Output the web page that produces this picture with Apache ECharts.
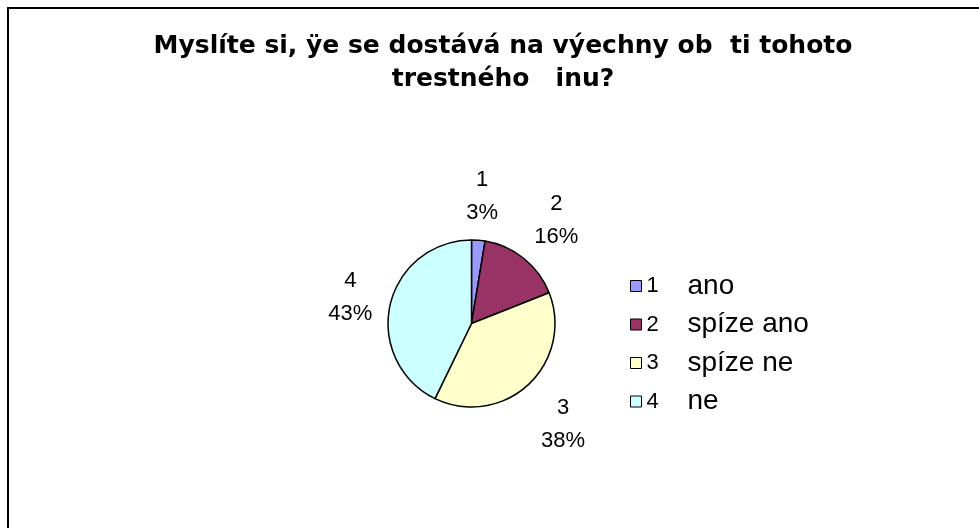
<!DOCTYPE html>
<html>
<head>
<meta charset="utf-8">
<script src="https://cdn.jsdelivr.net/npm/echarts@6/dist/echarts.min.js"></script>
<style>
  html, body { margin: 0; padding: 0; background: #fff; }
  #chart { width: 979px; height: 528px; }
</style>
</head>
<body>
<div id="chart"></div>
<script>
// data
const titleText = 'Myslíte si, ÿe se dostává na výechny ob  ti tohoto\ntrestného   inu?'
const categories = ['1', '2', '3', '4']
const answers = ['ano', 'spíze ano', 'spíze ne', 'ne']
const values = [2.6, 16.4, 38.2, 42.8]
const colors = ['#9999FF', '#993366', '#FFFFCC', '#CCFFFF']

const font = '"Liberation Sans", Arial, sans-serif'
const center = [471.5, 323.5]
const pieRadius = 83.5
const labelGap = 12

const chart = echarts.init(document.getElementById('chart'), null, { renderer: 'canvas' })

const pieData = categories.map((c, i) => ({
  name: c,
  value: values[i],
  itemStyle: { color: colors[i] }
}))

// push each label out along its slice's bisector until its box clears the pie
function placeLabel(params) {
  const r = params.labelRect
  const mx = r.x + r.width / 2 - center[0]
  const my = r.y + r.height / 2 - center[1]
  const len = Math.sqrt(mx * mx + my * my) || 1
  const ux = mx / len
  const uy = my / len
  const d = pieRadius + labelGap + Math.abs(ux) * r.width / 2 + Math.abs(uy) * r.height / 2
  return {
    x: center[0] + ux * d,
    y: center[1] + uy * d + 2,
    align: 'center',
    verticalAlign: 'middle'
  }
}

const option = {
  animation: false,
  backgroundColor: '#fff',
  title: {
    text: titleText,
    left: 498,
    top: 25,
    textAlign: 'center',
    textStyle: {
      fontFamily: '"DejaVu Sans", sans-serif',
      fontWeight: 'bold',
      fontSize: 25,
      lineHeight: 33,
      color: '#000'
    }
  },
  graphic: [{
    type: 'rect',
    shape: { x: 8, y: 8, width: 1000, height: 560 },
    style: { fill: 'none', stroke: '#000', lineWidth: 2 },
    silent: true
  }],
  legend: {
    data: categories,
    orient: 'vertical',
    left: 625,
    top: 267,
    icon: 'rect',
    itemWidth: 11,
    itemHeight: 11,
    itemGap: 10.5,
    selectedMode: false,
    itemStyle: { borderColor: '#000', borderWidth: 1 },
    formatter: function (name) {
      const i = categories.indexOf(name)
      return '{n|' + name + '}{t|' + answers[i] + '}'
    },
    textStyle: {
      rich: {
        n: { fontFamily: font, fontSize: 22, width: 41, lineHeight: 30, color: '#000' },
        t: { fontFamily: font, fontSize: 28, lineHeight: 30, color: '#000' }
      }
    }
  },
  series: [
    {
      type: 'pie',
      center: center,
      radius: [0, pieRadius],
      startAngle: 90,
      clockwise: true,
      silent: true,
      percentPrecision: 0,
      data: pieData,
      itemStyle: { borderColor: '#000', borderWidth: 1.5 },
      label: { show: false },
      labelLine: { show: false },
      emphasis: { disabled: true }
    },
    {
      // transparent ring only used to carry the labels
      type: 'pie',
      center: center,
      radius: [84, 166],
      startAngle: 90,
      clockwise: true,
      silent: true,
      percentPrecision: 0,
      legendHoverLink: false,
      data: pieData.map(d => ({ name: d.name, value: d.value, itemStyle: { color: 'rgba(0,0,0,0)' } })),
      itemStyle: { borderWidth: 0 },
      label: {
        show: true,
        position: 'inside',
        formatter: '{b}\n{d}%',
        fontFamily: font,
        fontSize: 22,
        lineHeight: 33,
        color: '#000',
        align: 'center'
      },
      labelLayout: placeLabel,
      labelLine: { show: false },
      emphasis: { disabled: true }
    }
  ]
}

chart.setOption(option)
</script>
</body>
</html>
